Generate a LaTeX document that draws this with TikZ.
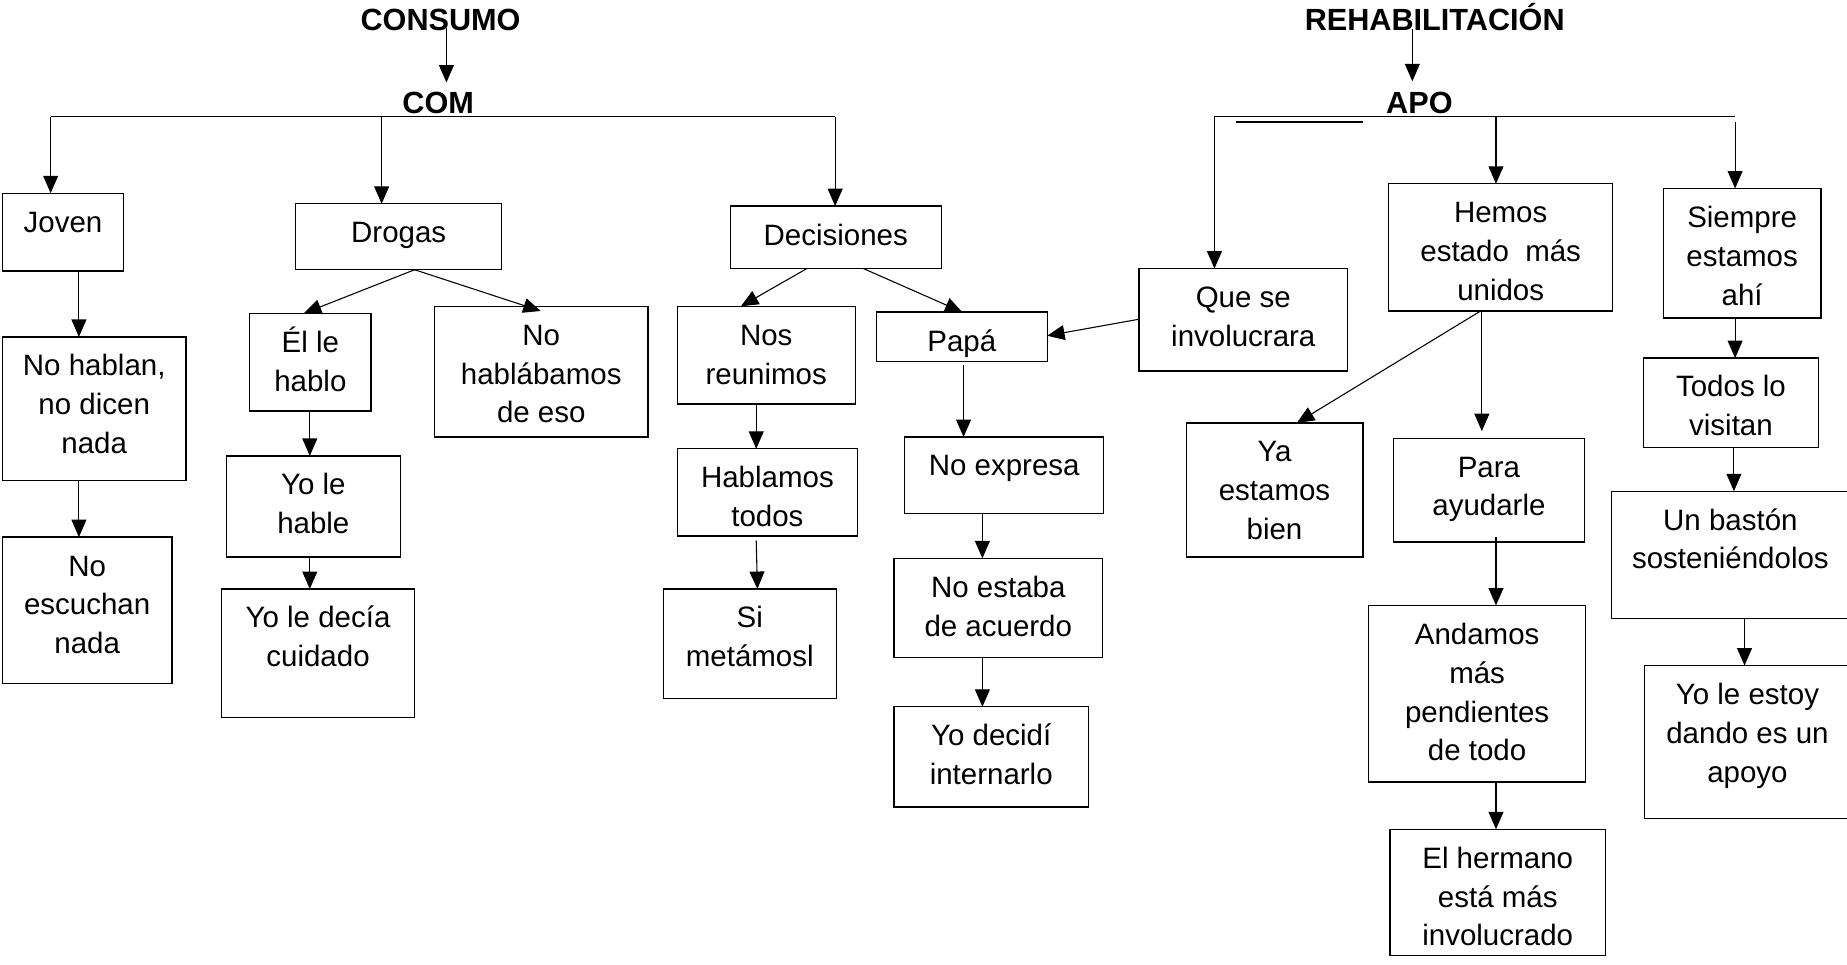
\documentclass[tikz,border=0pt]{standalone}
\usepackage{fontspec}
\setmainfont{Liberation Sans}
\usepackage{tikz}
\usetikzlibrary{arrows.meta}

\newlength{\pxu}
\setlength{\pxu}{0.025cm}
\newcommand{\boxfont}{\fontsize{17.8pt}{23.47pt}\selectfont}
\newcommand{\topfont}{\fontsize{18.5pt}{22pt}\selectfont\bfseries}
% box text: fixed width/height, lines start at the top
\newcommand{\bx}[3]{\parbox[t][#2\pxu][t]{#1\pxu}{\centering\rule{0pt}{33\pxu}#3}}

\begin{document}
\begin{tikzpicture}[
  x=0.025cm, y=-0.025cm,
  %--- style definitions ---
  box/.style   = {draw, line width=0.8pt, anchor=north west,
                  inner sep=0pt, outer sep=0pt, font=\boxfont},
  head/.style  = {anchor=base, inner sep=0pt, font=\topfont},
  arrow/.style = {-{Triangle[length=10.5pt,width=9pt]}, line width=0.65pt},
  link/.style  = {line width=0.65pt},
]
\useasboundingbox (0,0) rectangle (1568,819);

%% ── TITLES ─────────────────────────────────────────────────────────────────
\node[head] (consumo) at (374,26)  {CONSUMO};
\node[head] (com)     at (372,96)  {COM};
\node[head] (rehab)   at (1218,26) {REHABILITACIÓN};
\node[head] (apo)     at (1205,96) {APO};

%% ── COM : JOVEN ────────────────────────────────────────────────────────────
\node[box] (joven)      at (2,164) {\bx{103}{66}{Joven}};
\node[box] (nohablan)   at (2,286) {\bx{156}{122}{No hablan,\\ no dicen\\ nada}};
\node[box] (noescuchan) at (2,456) {\bx{144}{124}{No\\ escuchan\\ nada}};

%% ── COM : DROGAS ───────────────────────────────────────────────────────────
\node[box] (drogas)       at (251,173) {\bx{175}{56}{Drogas}};
\node[box] (elle)         at (212,266) {\bx{103}{83}{Él le\\ hablo}};
\node[box] (yolehable)    at (192,387) {\bx{148}{86}{Yo le\\ hable}};
\node[box] (yoledecia)    at (188,500) {\bx{164}{109}{Yo le decía\\ cuidado}};
\node[box] (nohablabamos) at (369,260) {\bx{181}{111}{No\\ hablábamos\\ de eso}};

%% ── COM : DECISIONES ───────────────────────────────────────────────────────
\node[box] (decisiones)  at (620,175) {\bx{179}{53}{Decisiones}};
\node[box] (nosreunimos) at (575,260) {\bx{151}{83}{Nos\\ reunimos}};
\node[box] (hablamos)    at (575,381) {\bx{153}{74}{Hablamos\\ todos}};
\node[box] (simetamosl)  at (563,500) {\bx{147}{93}{Si\\ metámosl}};
\node[box] (papa)        at (744,265) {\bx{145}{42}{Papá}};
\node[box] (noexpresa)   at (768,371) {\bx{169}{65}{No expresa}};
\node[box] (noestaba)    at (759,474) {\bx{177}{84}{No estaba\\ de acuerdo}};
\node[box] (yodecidi)    at (759,600) {\bx{165}{85}{Yo decidí\\ internarlo}};

%% ── APO ────────────────────────────────────────────────────────────────────
\node[box] (queinv)    at (967,228)  {\bx{177}{87}{Que se\\ involucrara}};
\node[box] (hemos)     at (1179,156) {\bx{190}{108}{Hemos\\ estado\ \ más\\ unidos}};
\node[box] (yaestamos) at (1007,359) {\bx{150}{114}{Ya\\ estamos\\ bien}};
\node[box] (para)      at (1183,372) {\bx{162}{88}{Para\\ ayudarle}};
\node[box] (andamos)   at (1162,514) {\bx{184}{150}{Andamos\\ más\\ pendientes\\ de todo}};
\node[box] (hermano)   at (1180,704) {\bx{183}{107}{El hermano\\ está más\\ involucrado}};
\node[box] (siempre)   at (1412,160) {\bx{134}{110}{Siempre\\ estamos\\ ahí}};
\node[box] (todos)     at (1395,304) {\bx{149}{76}{Todos lo\\ visitan}};
\node[box] (baston)    at (1368,417) {\bx{202}{108}{Un bastón\\ sosteniéndolos}};
\node[box] (yoleestoy) at (1396,565) {\bx{175}{130}{Yo le estoy\\ dando es un\\ apoyo}};

%% ── ARROWS : COM ───────────────────────────────────────────────────────────
\draw[arrow] ([xshift=5\pxu, yshift=2\pxu]consumo.base) -- ([xshift=7\pxu, yshift=26\pxu]com.base);

\coordinate (comL) at (43,99);
\coordinate (comR) at (709,99);
\draw[link]  (comL) -- (comR);
\draw[arrow] (comL) -- (comL |- joven.north);
\draw[arrow] (com.base -| 324,0) ++(0,3) -- (drogas.north -| 324,0);
\draw[arrow] (comR) -- (comR |- decisiones.north);

% joven column
\draw[arrow] (joven.south -| 67,0)    -- (nohablan.north -| 67,0);
\draw[arrow] (nohablan.south -| 67,0) -- (noescuchan.north -| 67,0);

% drogas
\draw[arrow] (drogas.south -| 352,0) -- (elle.north -| 258,0);
\draw[arrow] (drogas.south -| 352,0) -- ([yshift=-4\pxu]nohablabamos.north -| 459,0);
\draw[arrow] (elle.south -| 263,0)      -- (yolehable.north -| 263,0);
\draw[arrow] (yolehable.south -| 263,0) -- (yoledecia.north -| 263,0);

% decisiones
\draw[arrow] (decisiones.south -| 685,0) -- (nosreunimos.north -| 629,0);
\draw[arrow] (decisiones.south -| 733,0) -- (papa.north -| 817,0);
\draw[arrow] (nosreunimos.south -| 642,0) -- (hablamos.north -| 642,0);
\draw[arrow] (hablamos.south -| 642,0) ++(0,4) -- (simetamosl.north -| 643,0);
\draw[arrow] (papa.south -| 818,0) ++(0,3)  -- (noexpresa.north -| 818,0);
\draw[arrow] (noexpresa.south -| 834,0) -- (noestaba.north -| 834,0);
\draw[arrow] (noestaba.south -| 834,0)  -- (yodecidi.north -| 834,0);

%% ── ARROWS : APO ───────────────────────────────────────────────────────────
\draw[arrow] ([xshift=-19\pxu, yshift=1\pxu]rehab.base) -- ([xshift=-6\pxu, yshift=27\pxu]apo.base);

\coordinate (apoL) at (1031,99);
\coordinate (apoR) at (1473,99);
\draw[link]  (apoL) -- (apoR);
\draw[line width=1pt] (1049,103.6) -- (1157,103.6);
\draw[arrow] (apoL) -- (apoL |- queinv.north);
\draw[arrow] (apo.base -| 1270,0) ++(0,3) -- (hemos.north -| 1270,0);
\draw[arrow] (apoR) ++(0,5) -- (siempre.north -| apoR);

% que se involucrara -> papa
\draw[arrow] (queinv.west |- 0,271) -- (papa.east |- 0,285);

% hemos estado
\draw[arrow] (hemos.south -| 1257,0) -- (yaestamos.north -| 1101,0);
\draw[arrow, shorten >=6\pxu] (hemos.south -| 1258,0) -- (para.north -| 1258,0);
\draw[arrow] (para.south -| 1270,0) ++(0,-4) -- (andamos.north -| 1270,0);
\draw[arrow] (andamos.south -| 1270,0) -- (hermano.north -| 1270,0);

% siempre estamos
\draw[arrow] (siempre.south -| 1473,0) -- (todos.north -| 1473,0);
\draw[arrow] (todos.south -| 1472,0)   -- (baston.north -| 1472,0);
\draw[arrow] (baston.south -| 1481,0)  -- (yoleestoy.north -| 1481,0);

\end{tikzpicture}
\end{document}
